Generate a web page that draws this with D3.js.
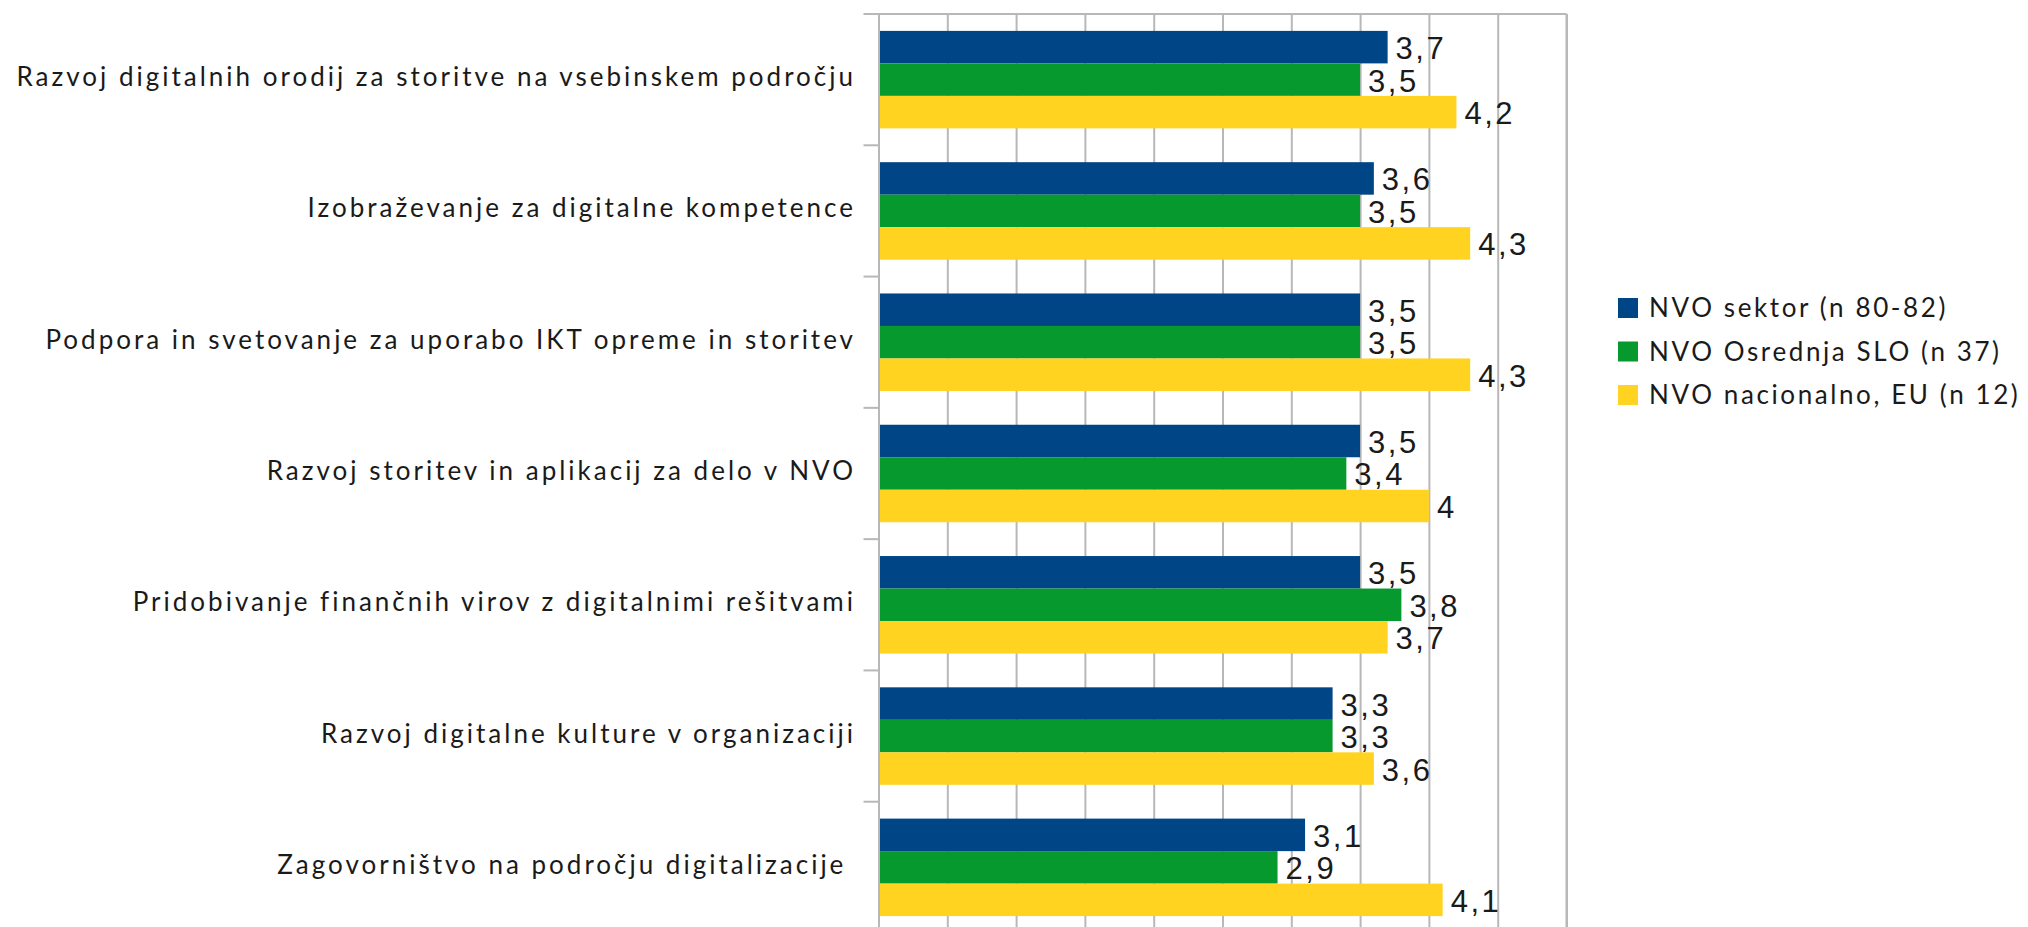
<!DOCTYPE html>
<html lang="sl">
<head>
<meta charset="UTF-8">
<title>Digitalne potrebe NVO</title>
<script src="https://cdn.jsdelivr.net/npm/d3@7"></script>
<style>
  html, body { margin: 0; padding: 0; background: #fff; overflow: hidden; }
  .cat { font-family: Lato, "Open Sans", sans-serif; font-size: 26px; fill: #1a1a1a; letter-spacing: 3px; white-space: pre; }
  .val { font-family: "Liberation Sans", Arial, sans-serif; font-size: 31px; fill: #1a1a1a; letter-spacing: 2.5px; }
  .leg { font-family: Lato, "Open Sans", sans-serif; font-size: 26px; fill: #1a1a1a; letter-spacing: 2.6px; }
</style>
</head>
<body>
<script>
// podatki
var categories = [
    "Razvoj digitalnih orodij za storitve na vsebinskem področju",
    "Izobraževanje za digitalne kompetence",
    "Podpora in svetovanje za uporabo IKT opreme in storitev",
    "Razvoj storitev in aplikacij za delo v NVO",
    "Pridobivanje finančnih virov z digitalnimi rešitvami",
    "Razvoj digitalne kulture v organizaciji",
    "Zagovorništvo na področju digitalizacije "
];
var seriesNames = ["NVO sektor (n 80-82)", "NVO Osrednja SLO (n 37)", "NVO nacionalno, EU (n 12)"];
var sektor     = [3.7, 3.6, 3.5, 3.5, 3.5, 3.3, 3.1];
var osrednja   = [3.5, 3.5, 3.5, 3.4, 3.8, 3.3, 2.9];
var nacionalno = [4.2, 4.3, 4.3, 4.0, 3.7, 3.6, 4.1];
var xTickValues = [0, 0.5, 1, 1.5, 2, 2.5, 3, 3.5, 4, 4.5, 5];
var colors = ["#004586", "#069a2e", "#ffd320"];

var series = [sektor, osrednja, nacionalno];

// platno
var width = 2028, height = 927;
var svg = d3.select("body").append("svg")
    .attr("width", width)
    .attr("height", height);

var plotLeft = 878.5, plotRight = 1566.5, plotTop = 14, plotBottom = 933;

var x = d3.scaleLinear().domain([0, 5]).range([plotLeft, plotRight]);
var y0 = d3.scaleBand().domain(categories).range([plotTop, plotBottom]);
var y1 = d3.scaleBand().domain([0, 1, 2]).range([0, y0.bandwidth()]).paddingOuter(0.52);

// mreža
svg.append("g")
    .attr("transform", "translate(0," + plotBottom + ")")
    .call(d3.axisBottom(x).tickValues(xTickValues).tickSize(-(plotBottom - plotTop)).tickFormat(""))
    .call(function(g){
        g.select(".domain").remove();
        g.selectAll(".tick line").attr("stroke", "#b8b8b8").attr("stroke-width", 2);
    });

// okvir
svg.append("line").attr("x1", plotLeft - 15).attr("x2", plotRight).attr("y1", plotTop).attr("y2", plotTop)
    .attr("stroke", "#b8b8b8").attr("stroke-width", 2);
svg.append("line").attr("x1", plotRight).attr("x2", plotRight).attr("y1", plotTop).attr("y2", plotBottom)
    .attr("stroke", "#b8b8b8").attr("stroke-width", 2);

// stolpci
var groups = svg.selectAll("g.cat-group")
    .data(categories)
    .enter()
    .append("g")
    .attr("class", "cat-group")
    .attr("transform", function(d){ return "translate(0," + y0(d) + ")"; });

groups.selectAll("rect")
    .data(function(d, i){ return series.map(function(s, k){ return {k: k, v: s[i]}; }); })
    .enter()
    .append("rect")
    .attr("x", x(0))
    .attr("y", function(d){ return y1(d.k); })
    .attr("width", function(d){ return x(d.v) - x(0); })
    .attr("height", y1.bandwidth())
    .attr("fill", function(d){ return colors[d.k]; });

groups.selectAll("text.val")
    .data(function(d, i){ return series.map(function(s, k){ return {k: k, v: s[i]}; }); })
    .enter()
    .append("text")
    .attr("class", "val")
    .attr("x", function(d){ return x(d.v) + 8; })
    .attr("y", function(d){ return y1(d.k) + y1.bandwidth() / 2 + 12; })
    .text(function(d){ return String(d.v).replace(".", ","); });

// os y
svg.append("g")
    .attr("transform", "translate(" + plotLeft + ",0)")
    .call(d3.axisLeft(y0).tickValues([]).tickSizeOuter(0))
    .call(function(g){ g.select(".domain").attr("stroke", "#b8b8b8").attr("stroke-width", 2); });

svg.selectAll("line.cat-tick")
    .data(categories.slice(1))
    .enter()
    .append("line")
    .attr("class", "cat-tick")
    .attr("x1", plotLeft - 15).attr("x2", plotLeft)
    .attr("y1", function(d){ return y0(d); })
    .attr("y2", function(d){ return y0(d); })
    .attr("stroke", "#b8b8b8").attr("stroke-width", 2);

svg.selectAll("text.cat")
    .data(categories)
    .enter()
    .append("text")
    .attr("class", "cat")
    .attr("x", 856)
    .attr("y", function(d){ return y0(d) + y0.bandwidth() / 2 + 6.5; })
    .attr("text-anchor", "end")
    .text(function(d){ return d; });

// legenda
var legend = svg.selectAll("g.legend")
    .data(seriesNames)
    .enter()
    .append("g")
    .attr("class", "legend")
    .attr("transform", function(d, i){ return "translate(1618," + (298 + i * 43.5) + ")"; });

legend.append("rect")
    .attr("width", 20).attr("height", 20)
    .attr("fill", function(d, i){ return colors[i]; });

legend.append("text")
    .attr("class", "leg")
    .attr("x", 31)
    .attr("y", 19)
    .text(function(d){ return d; });
</script>
</body>
</html>
